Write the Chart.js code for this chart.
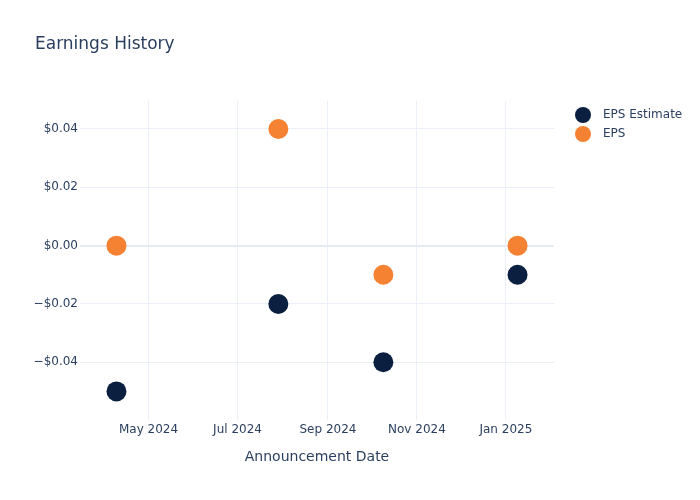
<!DOCTYPE html>
<html>
<head>
<meta charset="utf-8">
<script src="https://cdn.jsdelivr.net/npm/chart.js@4"></script>
<style>
  html, body { margin: 0; padding: 0; background: #fff; }
  #wrap { width: 700px; height: 500px; }
</style>
</head>
<body>
<div id="wrap"><canvas id="earningsChart"></canvas></div>
<script>
// Earnings data
const dates = ['2024-04-09', '2024-07-29', '2024-10-09', '2025-01-09'];
const epsEstimate = [-0.05, -0.02, -0.04, -0.01];
const epsActual = [0, 0.04, -0.01, 0];
const tickDates = ['2024-05-01', '2024-07-01', '2024-09-01', '2024-11-01', '2025-01-01'];
const tickLabels = ['May 2024', 'Jul 2024', 'Sep 2024', 'Nov 2024', 'Jan 2025'];
const yTicks = [-0.04, -0.02, 0, 0.02, 0.04];

const FONT = '"DejaVu Sans", Verdana, sans-serif';
const TEXT = '#2a3f5f';
const GRID = '#ebf0f8';

function toPoints(vals) {
    return dates.map((d, i) => ({ x: Date.parse(d), y: vals[i] }));
}

function money(v) {
    const s = '$' + Math.abs(v).toFixed(2);
    return v < -1e-9 ? '\u2212' + s : s;
}

// title + legend drawn by hand, plotly style
const decorations = {
    id: 'decorations',
    afterDraw(chart) {
        const c = chart.ctx;
        c.save();
        c.fillStyle = TEXT;
        c.textBaseline = 'middle';
        c.font = '17px ' + FONT;
        c.fillText('Earnings History', 35, 45);
        c.font = '12px ' + FONT;
        chart.data.datasets.forEach((ds, i) => {
            const y = 115 + i * 19;
            c.beginPath();
            c.arc(583, y, 8, 0, Math.PI * 2);
            c.fillStyle = ds.backgroundColor;
            c.fill();
            c.fillStyle = TEXT;
            c.fillText(ds.label, 603, y);
        });
        c.restore();
    }
};

const ctx = document.getElementById('earningsChart').getContext('2d');
const earningsChart = new Chart(ctx, {
    type: 'scatter',
    data: {
        datasets: [{
            label: 'EPS Estimate',
            data: toPoints(epsEstimate),
            backgroundColor: '#0b1f40',
            pointBorderWidth: 0,
            pointRadius: 10,
            pointHoverRadius: 10
        }, {
            label: 'EPS',
            data: toPoints(epsActual),
            backgroundColor: '#f58233',
            pointBorderWidth: 0,
            pointRadius: 10,
            pointHoverRadius: 10
        }]
    },
    options: {
        responsive: true,
        maintainAspectRatio: false,
        animation: false,
        layout: { padding: { left: 0, top: 101, right: 146, bottom: 0 } },
        plugins: {
            legend: { display: false },
            tooltip: { enabled: false }
        },
        scales: {
            x: {
                type: 'linear',
                min: Date.parse('2024-03-15'),
                max: Date.parse('2025-02-03'),
                border: { display: false },
                grid: { color: GRID, drawTicks: false },
                afterFit: scale => { scale.height = 80; },
                afterBuildTicks: scale => {
                    scale.ticks = tickDates.map(d => ({ value: Date.parse(d) }));
                },
                ticks: {
                    padding: 3,
                    color: TEXT,
                    font: { family: FONT, size: 12 },
                    maxRotation: 0,
                    callback: function(value) {
                        const i = tickDates.findIndex(d => Date.parse(d) === value);
                        return i >= 0 ? tickLabels[i] : '';
                    }
                },
                title: {
                    display: true,
                    text: 'Announcement Date',
                    color: TEXT,
                    font: { family: FONT, size: 14 },
                    padding: { top: 0, bottom: 34 }
                }
            },
            y: {
                min: -0.0598,
                max: 0.0496,
                border: { display: false },
                grid: {
                    drawTicks: false,
                    color: ctx => ctx.tick && Math.abs(ctx.tick.value) < 1e-9 ? '#e6ebf3' : GRID,
                    lineWidth: ctx => ctx.tick && Math.abs(ctx.tick.value) < 1e-9 ? 2 : 1
                },
                afterFit: scale => { scale.width = 80; },
                afterBuildTicks: scale => {
                    scale.ticks = yTicks.map(v => ({ value: v }));
                },
                ticks: {
                    padding: 2,
                    color: TEXT,
                    font: { family: FONT, size: 12 },
                    callback: value => money(value)
                }
            }
        }
    },
    plugins: [decorations]
});
</script>
</body>
</html>
